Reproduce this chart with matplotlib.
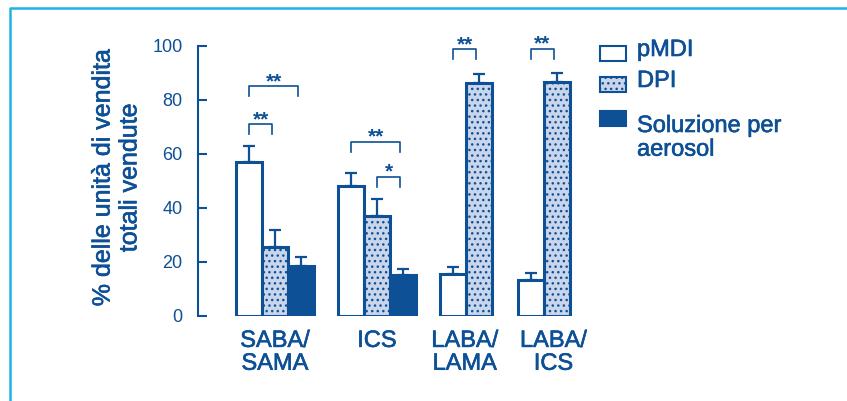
import matplotlib
matplotlib.use("Agg")
import matplotlib.pyplot as plt
import matplotlib.patheffects as pe
import numpy as np
from matplotlib.patches import Rectangle
from matplotlib.lines import Line2D

# data
categories = ["SABA/\nSAMA", "ICS", "LABA/\nLAMA", "LABA/\nICS"]
series = ["pMDI", "DPI", "Soluzione per\naerosol"]
pmdi = [57.0, 48.0, 15.5, 13.3]
pmdi_err = [5.8, 4.8, 2.6, 2.7]
dpi = [25.5, 37.0, 86.2, 86.5]
dpi_err = [6.3, 6.3, 3.3, 3.4]
sol = [18.5, 15.2, np.nan, np.nan]
sol_err = [3.5, 2.3, np.nan, np.nan]
# (group, bar a, bar b, bracket height, label)
signif = [(0, 0, 1, 71.0, "**"), (0, 0, 2, 85.0, "**"),
          (1, 0, 2, 64.5, "**"), (1, 1, 2, 51.5, "*"),
          (2, 0, 1, 98.8, "**"), (3, 0, 1, 99.0, "**")]
yticks = [0, 20, 40, 60, 80, 100]

# layout
group_x = [2.96, 6.88, 10.31, 13.29]
label_shift = [0, 0, -0.05, 0.38]
width = 1.0
BLUE = "#0d5096"
LIGHT = "#c9d5ea"
CYAN = "#1db4e3"
FONT = ["Liberation Sans", "DejaVu Sans"]
NARROW = ["Liberation Sans Narrow", "Liberation Sans", "DejaVu Sans"]
THICK = [pe.withStroke(linewidth=0.45, foreground=BLUE)]

plt.rcParams["hatch.color"] = BLUE
plt.rcParams["hatch.linewidth"] = 1.0

fig = plt.figure(figsize=(8.47, 4.01), dpi=100)
ax = fig.add_axes([198 / 847, 1 - 316 / 401, 392 / 847, 270 / 401])

values = [pmdi, dpi, sol]
errors = [pmdi_err, dpi_err, sol_err]
faces = ["white", LIGHT, BLUE]
hatches = [None, "...", None]

centers = {}
for g, gx in enumerate(group_x):
    present = [s for s in range(3) if not np.isnan(values[s][g])]
    n = len(present)
    for k, s in enumerate(present):
        x = gx + (k - (n - 1) / 2) * width
        centers[(g, k)] = x
        ax.bar(x, values[s][g], width=width, color=faces[s], edgecolor=BLUE,
               linewidth=2.2, hatch=hatches[s], zorder=3)
        ax.errorbar(x, values[s][g], yerr=[[0], [errors[s][g]]], fmt="none",
                    ecolor=BLUE, elinewidth=1.6, capsize=4.5, capthick=1.6,
                    zorder=2)

leg = 3.7
for g, a, b, y, lab in signif:
    x0 = centers[(g, a)]
    x1 = centers[(g, b)] - 0.1
    ax.plot([x0, x0, x1, x1], [y - leg, y, y, y - leg], color=BLUE, lw=1.2,
            clip_on=False, zorder=4)
    ax.text((x0 + x1) / 2, y - 0.3, lab, ha="center", va="baseline",
            color=BLUE, fontsize=15, fontweight="bold", family=FONT,
            clip_on=False)

ax.set_xlim(0, 392 / 26)
ax.set_ylim(0, 100)
ax.set_yticks(yticks)
ax.set_xticks([gx + d for gx, d in zip(group_x, label_shift)])
ax.set_xticklabels(categories, family=FONT, fontsize=17, color=BLUE,
                   linespacing=1.05)
for t in ax.get_xticklabels():
    t.set_path_effects(THICK)
for t in ax.get_yticklabels():
    t.set_family(NARROW)
    t.set_fontsize(13)
    t.set_color(BLUE)
ax.tick_params(axis="y", direction="in", length=6.5, width=1.5, color=BLUE,
               pad=11)
ax.tick_params(axis="x", length=0, pad=10)
for side in ["top", "right", "bottom"]:
    ax.spines[side].set_visible(False)
ax.spines["left"].set_color(BLUE)
ax.spines["left"].set_linewidth(1.5)
ax.patch.set_visible(False)

fig.text(116 / 847, 1 - 178 / 401, "% delle unità di vendita\ntotali vendute",
         rotation=90, ha="center", va="center", multialignment="center",
         family=FONT, fontsize=18, color=BLUE, linespacing=1.15,
         path_effects=THICK)

# legend
rows = [53, 84, 118]
for s, yc in enumerate(rows):
    box = Rectangle((600 / 847, 1 - (yc + 7.5) / 401), 26 / 847, 15 / 401,
                    transform=fig.transFigure, facecolor=faces[s],
                    edgecolor=BLUE, linewidth=1.5, hatch=hatches[s])
    fig.add_artist(box)
    fig.text(637 / 847, 1 - (yc - 3) / 401, series[s], ha="left",
             va="top" if s == 2 else "center", family=FONT, fontsize=17,
             color=BLUE, linespacing=1.1, path_effects=THICK)

# frame
fig.add_artist(Line2D([10 / 847, 10 / 847, 1], [0, 1 - 8 / 401, 1 - 8 / 401],
                      transform=fig.transFigure, color=CYAN, lw=1.8))

fig.savefig("out.png", dpi=100)
